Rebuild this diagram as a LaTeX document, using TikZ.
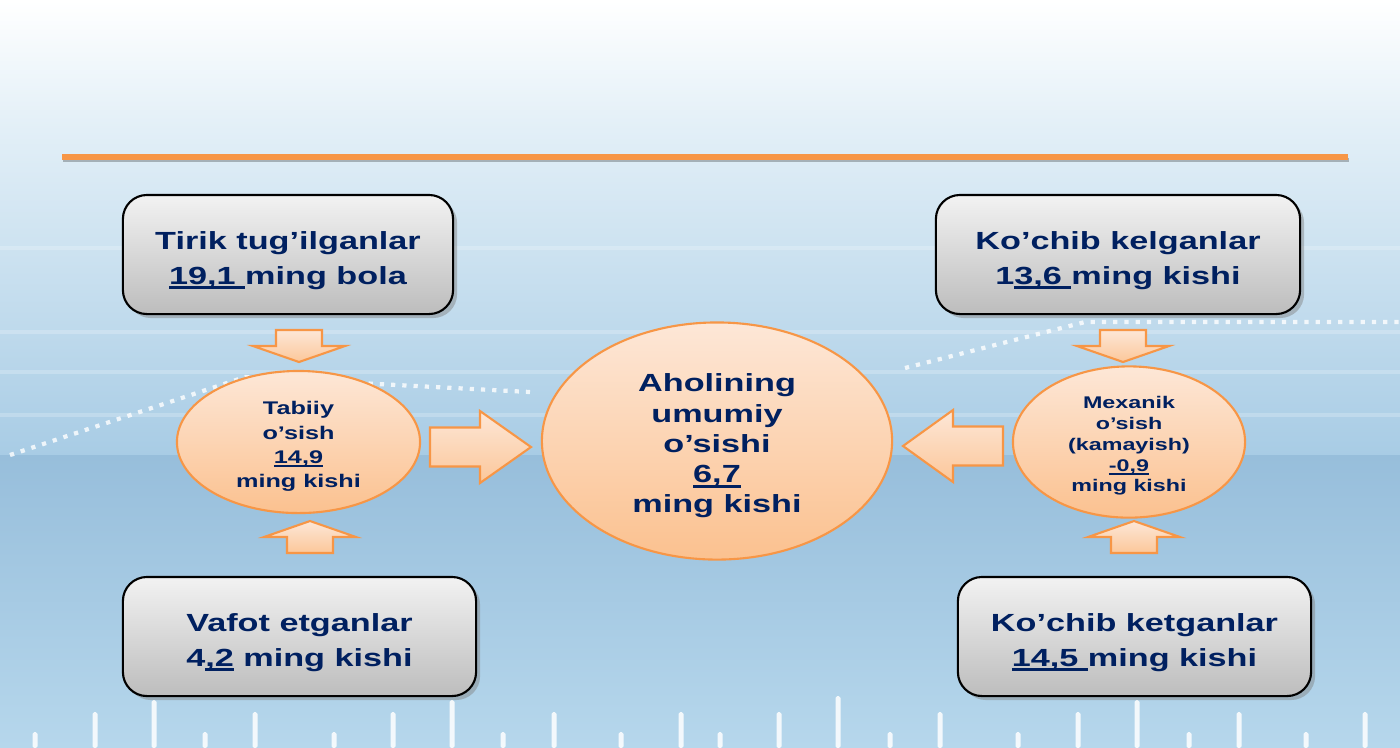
\documentclass[tikz,border=0pt]{standalone}
\usepackage{fontspec}
\setmainfont{Liberation Sans}[FakeStretch=1.38]
\usetikzlibrary{shapes.geometric,shadows,calc,positioning}
\definecolor{navy}{HTML}{002060}
\definecolor{ornline}{HTML}{F79646}
\definecolor{peachtop}{HTML}{FDE7D7}
\definecolor{peachbot}{HTML}{FBC18F}
\definecolor{skyA}{HTML}{E2EFF7}
\definecolor{skyB}{HTML}{A8CCE5}
\definecolor{skyC}{HTML}{97BEDB}
\definecolor{skyD}{HTML}{B6D7EC}
\newcommand{\uln}[1]{\setbox0\hbox{#1}\rlap{\rule[-0.2em]{\wd0}{0.11em}}\box0\relax}
\newcommand{\topgap}[1]{\rule{0pt}{#1}}

\begin{document}
\begin{tikzpicture}
[x=0.01cm,y=-0.01cm,
box/.style={draw=black,line width=.6pt,rounded corners=.24cm,top color=black!5,bottom color=black!26,
  drop shadow={shadow xshift=.04cm,shadow yshift=-.04cm,opacity=.45},minimum height=1.19cm,
  text=navy,align=center,inner sep=0pt,font=\fontsize{7.05}{9.7}\selectfont\bfseries},
blob/.style={ellipse,draw=ornline,line width=.6pt,top color=peachtop,bottom color=peachbot,
  text=navy,align=center,inner sep=0pt},
arrowfill/.style={draw=ornline,line width=.6pt,top color=peachtop,bottom color=peachbot!85!peachtop},
pics/vdown/.style={code={\draw[arrowfill] (-23,0) -- (23,0) -- (23,16) -- (46,16) -- (0,32) -- (-46,16) -- (-23,16) -- cycle;}},
pics/vup/.style={code={\draw[arrowfill] (-23,0) -- (23,0) -- (23,-16) -- (46,-16) -- (0,-32) -- (-46,-16) -- (-23,-16) -- cycle;}},
pics/hright/.style={code={\draw[arrowfill] (0,-19.5) -- (50,-19.5) -- (50,-36) -- (101,0) -- (50,36) -- (50,19.5) -- (0,19.5) -- cycle;}},
pics/hleft/.style={code={\draw[arrowfill] (0,-19.5) -- (-50,-19.5) -- (-50,-36) -- (-100,0) -- (-50,36) -- (-50,19.5) -- (0,19.5) -- cycle;}}]
%% background
\useasboundingbox (0,0) rectangle (1400,747);
\shade[top color=white,bottom color=skyA] (0,0) rectangle (1400,130);
\shade[top color=skyA,bottom color=skyB] (0,130) rectangle (1400,455);
\shade[top color=skyC,bottom color=skyD] (0,455) rectangle (1400,747);
\foreach \ly in {248,332,372,415}
  \draw[white,opacity=.22,line width=1pt] (0,\ly) -- (1400,\ly);
\draw[white,opacity=.8,line width=1.2pt,dotted] (10,455) -- (245,377) -- (530,392);
\draw[white,opacity=.8,line width=1.2pt,dotted] (905,368) -- (1085,322) -- (1400,322);
\foreach \bx/\by in {35/732,95/712,154/700,205/732,255/712,334/732,393/712,452/700,503/732,554/712,621/732,681/712,
  720/732,779/712,838/696,890/732,940/712,1018/732,1078/712,1137/700,1189/732,1239/712,1306/732,1365/712}
  \fill[white,opacity=.85,rounded corners=.5pt] (\bx-2.5,748) rectangle (\bx+2.5,\by);
\draw[black,opacity=.25,line width=1.4pt] (63,160) -- (1349,160);
\draw[ornline,line width=1.45pt] (62,157) -- (1348,157);
%% boxes
\node[box,minimum width=3.3cm] (born) at (288,254.5) {\topgap{8.6pt}Tirik tug’ilganlar\\\uln{19,1 }ming bola};
\node[box,minimum width=3.64cm] (arrived) at (1118,254.5) {\topgap{8.6pt}Ko’chib kelganlar\\1\uln{3,6 }ming kishi};
\node[box,minimum width=3.53cm] (died) at (299.5,636.5) {\topgap{8.6pt}Vafot etganlar\\4\uln{,2} ming kishi};
\node[box,minimum width=3.53cm] (left) at (1134.5,636.5) {\topgap{8.6pt}Ko’chib ketganlar\\\uln{14,5 }ming kishi};
%% ellipses
\node[blob,minimum width=2.43cm,minimum height=1.42cm,font=\fontsize{5.2}{6.9}\selectfont\bfseries]
  (natural) at (298.5,442) {\topgap{6.4pt}Tabiiy\\o’sish\\\uln{14,9}\\ming kishi};
\node[blob,minimum width=3.5cm,minimum height=2.37cm,font=\fontsize{7.05}{8.6}\selectfont\bfseries]
  (total) at (717,441) {\topgap{8pt}Aholining\\umumiy\\o’sishi\\\uln{6,7}\\ming kishi};
\node[blob,minimum width=2.32cm,minimum height=1.44cm,font=\fontsize{4.8}{5.9}\selectfont\bfseries]
  (mech) at (1129,442) {\topgap{5.8pt}Mexanik\\o’sish\\(kamayish)\\\uln{-0,9}\\ming kishi};
%% block arrows
\pic at (299,330) {vdown};
\pic at (310,553) {vup};
\pic at (430,447) {hright};
\pic at (1003,446) {hleft};
\pic at (1123,330) {vdown};
\pic at (1134,553) {vup};
\end{tikzpicture}
\end{document}
